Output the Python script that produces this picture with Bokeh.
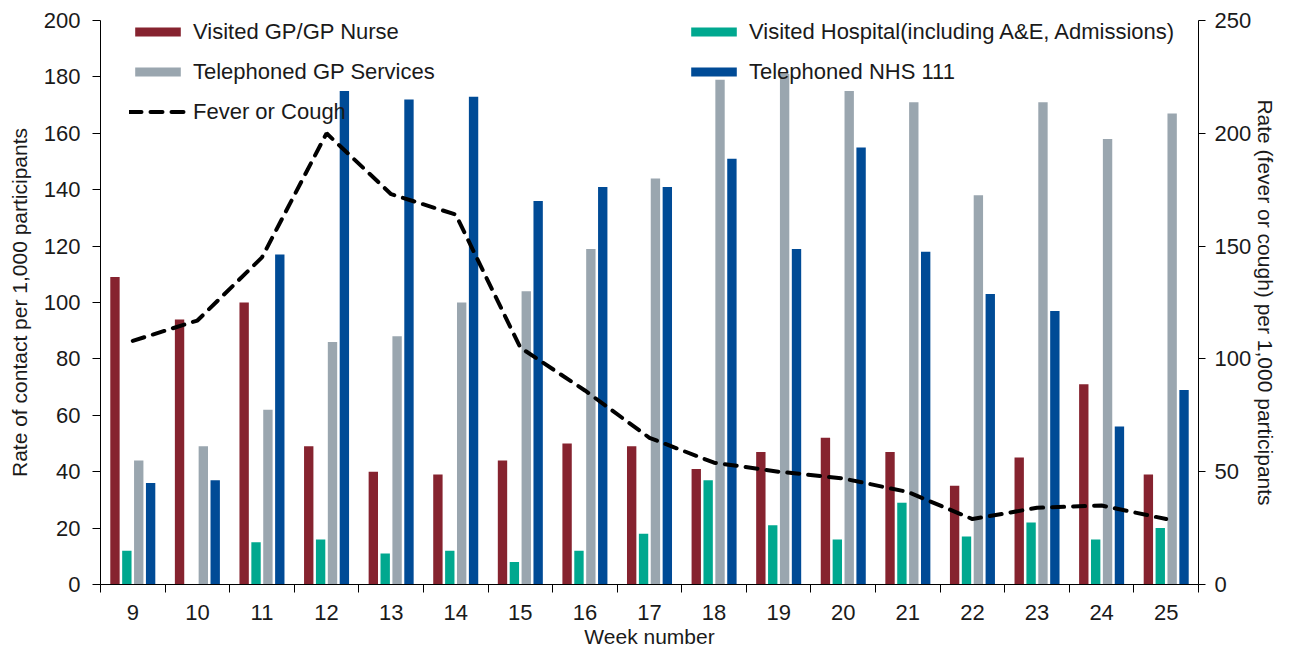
from bokeh.plotting import figure
from bokeh.models import (ColumnDataSource, Range1d, LinearAxis, FixedTicker,
                          Legend, LegendItem)
from bokeh.transform import dodge
from bokeh.embed import file_html
from bokeh.resources import INLINE

weeks = [9, 10, 11, 12, 13, 14, 15, 16, 17, 18, 19, 20, 21, 22, 23, 24, 25]
visited_gp = [109, 94, 100, 49, 40, 39, 44, 50, 49, 41, 47, 52, 47, 35, 45, 71, 39]
visited_hospital = [12, 0, 15, 16, 11, 12, 8, 12, 18, 37, 21, 16, 29, 17, 22, 16, 20]
telephoned_gp = [44, 49, 62, 86, 88, 100, 104, 119, 144, 179, 181, 175, 171, 138, 171, 158, 167]
telephoned_111 = [36, 37, 117, 175, 172, 173, 136, 141, 141, 151, 119, 155, 118, 103, 97, 56, 69]
fever_cough = [108, 117, 145, 200, 173, 164, 105, 86, 65, 54, 50, 47, 41, 29, 34, 35, 29]

series_names = ["Visited GP/GP Nurse", "Visited Hospital(including A&E, Admissions)",
                "Telephoned GP Services", "Telephoned NHS 111"]
line_name = "Fever or Cough"
y_left_label = "Rate of contact per 1,000 participants"
y_right_label = "Rate (fever or cough) per 1,000 participants"
x_label = "Week number"

src = ColumnDataSource(dict(week=weeks, gp=visited_gp, hosp=visited_hospital,
                            telgp=telephoned_gp, nhs=telephoned_111, fever=fever_cough))

FONT = "Liberation Sans"
TXT = "#1a1a1a"

W, H = 1282, 650
B_LEFT, B_RIGHT, B_TOP, B_BOTTOM = 100, 84, 20, 64
FRAME_H = H - B_TOP - B_BOTTOM

p = figure(width=W, height=H, output_backend="svg", toolbar_location=None,
           x_range=Range1d(8.5, 25.5), y_range=Range1d(0, 200),
           min_border_left=B_LEFT, min_border_right=B_RIGHT, min_border_top=B_TOP,
           min_border_bottom=B_BOTTOM)
p.extra_y_ranges = {"fever": Range1d(0, 250)}
p.outline_line_color = None
p.xgrid.visible = False
p.ygrid.visible = False
p.background_fill_color = "white"

colors = ["#86232F", "#00A88F", "#9AA6AF", "#004B96"]
cols = ["gp", "hosp", "telgp", "nhs"]
offsets = [-0.276, -0.092, 0.092, 0.276]
bars = []
for c, col, off in zip(colors, cols, offsets):
    r = p.vbar(x=dodge("week", off), top=col, width=0.145, source=src,
               fill_color=c, line_color=None)
    bars.append(r)

ln = p.line(x="week", y="fever", source=src, y_range_name="fever",
            line_color="black", line_width=4, line_dash="12 9", line_cap="round")

# x axis
boundaries = [w - 0.5 for w in weeks] + [weeks[-1] + 0.5]
xa = p.xaxis[0]
xa.ticker = FixedTicker(ticks=weeks, minor_ticks=boundaries)
xa.major_tick_out = 0
xa.major_tick_in = 0
xa.minor_tick_out = 8
xa.minor_tick_in = 0
xa.minor_tick_line_color = "black"
xa.axis_line_color = "black"
xa.major_label_standoff = 12
xa.axis_label = x_label
xa.axis_label_standoff = 2

ya = p.yaxis[0]
ya.ticker = FixedTicker(ticks=list(range(0, 201, 20)))
ya.major_tick_out = 8
ya.major_tick_in = 0
ya.minor_tick_out = 0
ya.minor_tick_in = 0
ya.axis_line_color = "black"
ya.major_tick_line_color = "black"
ya.major_label_standoff = 12
ya.axis_label = y_left_label
ya.axis_label_standoff = 10

ra = LinearAxis(y_range_name="fever", ticker=FixedTicker(ticks=list(range(0, 251, 50))))
ra.major_tick_out = 7
ra.major_tick_in = 0
ra.minor_tick_out = 0
ra.minor_tick_in = 0
ra.axis_line_color = "black"
ra.major_tick_line_color = "black"
ra.major_label_standoff = 9
ra.axis_label = y_right_label
ra.axis_label_standoff = 0
p.add_layout(ra, "right")

for ax in [xa, ya, ra]:
    ax.major_label_text_font = FONT
    ax.major_label_text_font_size = "22px"
    ax.major_label_text_color = TXT
    ax.axis_label_text_font = FONT
    ax.axis_label_text_font_size = "21px"
    ax.axis_label_text_font_style = "normal"
    ax.axis_label_text_color = TXT

LABEL_H, SPACING = 27, 13

def make_legend(items, x):
    n = len(items)
    leg_h = n * LABEL_H + (n - 1) * SPACING
    lg = Legend(items=items, location=(x, FRAME_H - leg_h), orientation="vertical",
                glyph_width=57, glyph_height=11, label_height=LABEL_H, spacing=SPACING,
                label_standoff=7, padding=0, margin=0,
                border_line_color=None, background_fill_alpha=0,
                label_text_font=FONT, label_text_font_size="22px",
                label_text_color=TXT)
    return lg

leg1 = make_legend([LegendItem(label=series_names[0], renderers=[bars[0]]),
                    LegendItem(label=series_names[2], renderers=[bars[2]]),
                    LegendItem(label=line_name, renderers=[ln])], 29)
leg2 = make_legend([LegendItem(label=series_names[1], renderers=[bars[1]]),
                    LegendItem(label=series_names[3], renderers=[bars[3]])], 585)
p.add_layout(leg1, "center")
p.add_layout(leg2, "center")

open("out.html", "w").write(file_html(p, INLINE))
